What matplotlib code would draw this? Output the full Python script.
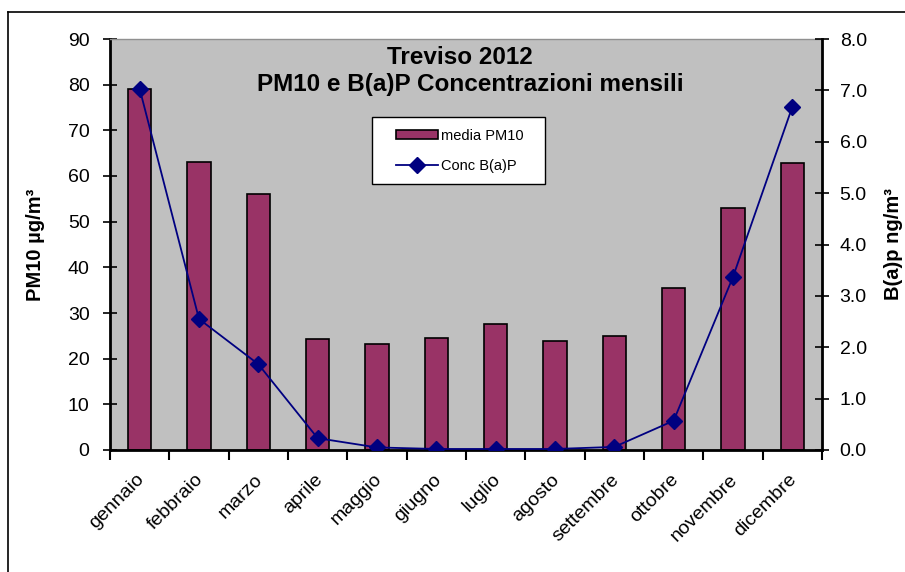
import matplotlib
matplotlib.use("Agg")
import matplotlib.pyplot as plt
import matplotlib.transforms as mtransforms
from matplotlib.lines import Line2D
from matplotlib.patches import Rectangle
import numpy as np

plt.rcParams['font.family'] = ['Liberation Sans', 'DejaVu Sans']

mesi = ['gennaio', 'febbraio', 'marzo', 'aprile', 'maggio', 'giugno',
        'luglio', 'agosto', 'settembre', 'ottobre', 'novembre', 'dicembre']
media_pm10 = [79.0, 63.1, 56.0, 24.2, 23.2, 24.5, 27.6, 23.9, 24.9, 35.5, 52.9, 62.9]
conc_bap = [7.03, 2.55, 1.67, 0.23, 0.05, 0.02, 0.02, 0.02, 0.06, 0.57, 3.37, 6.68]

W, H = 905, 572
fig = plt.figure(figsize=(W / 100, H / 100), dpi=100)
fig.patch.set_facecolor('white')

# outer chart frame (only top and left edges visible)
fig.add_artist(Line2D([8 / W, 8 / W], [0, 1 - 12 / H], transform=fig.transFigure, color='black', lw=1.2))
fig.add_artist(Line2D([8 / W, 1], [1 - 12 / H, 1 - 12 / H], transform=fig.transFigure, color='black', lw=1.2))

ax = fig.add_axes([110 / W, (H - 450) / H, 712 / W, 411 / H])
ax.set_facecolor('#C0C0C0')

x = np.arange(len(mesi))
bars = ax.bar(x, media_pm10, width=0.39, color='#993366', edgecolor='black', linewidth=1.2, zorder=2)

ax.set_xlim(-0.5, len(mesi) - 0.5)
ax.set_ylim(0, 90)
ax.set_yticks(range(0, 91, 10))
ax.tick_params(axis='y', direction='inout', length=9.5, width=1.2, labelsize=14, pad=10)

# ticks on category boundaries, labels at category centres
ax.set_xticks(np.arange(-0.5, len(mesi), 1.0))
ax.set_xticklabels([])
ax.tick_params(axis='x', which='major', direction='out', length=7, width=1.5)
ax.set_xticks(x, minor=True)
ax.set_xticklabels(mesi, minor=True, rotation=45, ha='right', rotation_mode='anchor', fontsize=14)
ax.tick_params(axis='x', which='minor', length=0, pad=15)
nudge = mtransforms.ScaledTranslation(-4 / 100, 0, fig.dpi_scale_trans)
for lab in ax.get_xticklabels(minor=True):
    lab.set_transform(lab.get_transform() + nudge)

for side in ['left', 'bottom']:
    ax.spines[side].set_linewidth(2)
    ax.spines[side].set_color('black')
ax.spines['top'].set_color('#909090')
ax.spines['top'].set_linewidth(1)
ax.set_ylabel('PM10 µg/m³', fontsize=14.5, fontweight='bold')
ax.yaxis.set_label_coords((45 - 110) / 712, 0.5)

ax2 = ax.twinx()
line, = ax2.plot(x, conc_bap, color='#000080', lw=1.3, marker='D', markersize=8,
                 markerfacecolor='#000080', markeredgecolor='#000080', zorder=3)
ax2.set_ylim(0, 8)
ax2.set_yticks(np.arange(0, 8.1, 1.0))
ax2.set_yticklabels([f'{v:.1f}' for v in np.arange(0, 8.1, 1.0)])
ax2.tick_params(axis='y', direction='inout', length=9.5, width=1.2, labelsize=14, pad=8)
ax2.spines['right'].set_linewidth(2)
ax2.spines['top'].set_visible(False)
ax2.spines['left'].set_visible(False)
ax2.spines['bottom'].set_visible(False)
ax2.set_ylabel('B(a)p ng/m³', fontsize=14.5, fontweight='bold')
ax2.yaxis.set_label_coords((884 - 110) / 712, 0.5)

fig.text(460 / W, 1 - 57 / H, 'Treviso 2012', ha='center', va='center', fontsize=17.5, fontweight='bold')
fig.text(470 / W, 1 - 84 / H, 'PM10 e B(a)P Concentrazioni mensili', ha='center', va='center',
         fontsize=17.5, fontweight='bold')

# legend box drawn separately so its size can be set directly
fig.add_artist(Rectangle((372 / W, 1 - 184 / H), 173 / W, 67 / H, transform=fig.transFigure,
                         facecolor='white', edgecolor='black', lw=1, zorder=4))
leg = fig.legend([bars, line], ['media PM10', 'Conc B(a)P'], loc='upper left',
                 bbox_to_anchor=(396 / W, 1 - 129 / H), bbox_transform=fig.transFigure,
                 frameon=False, fontsize=10.5, handlelength=2.9, handleheight=0.6,
                 labelspacing=1.1, borderpad=0, handletextpad=0.2, borderaxespad=0)
leg.set_zorder(5)

fig.savefig('out.png', dpi=100, facecolor='white')
